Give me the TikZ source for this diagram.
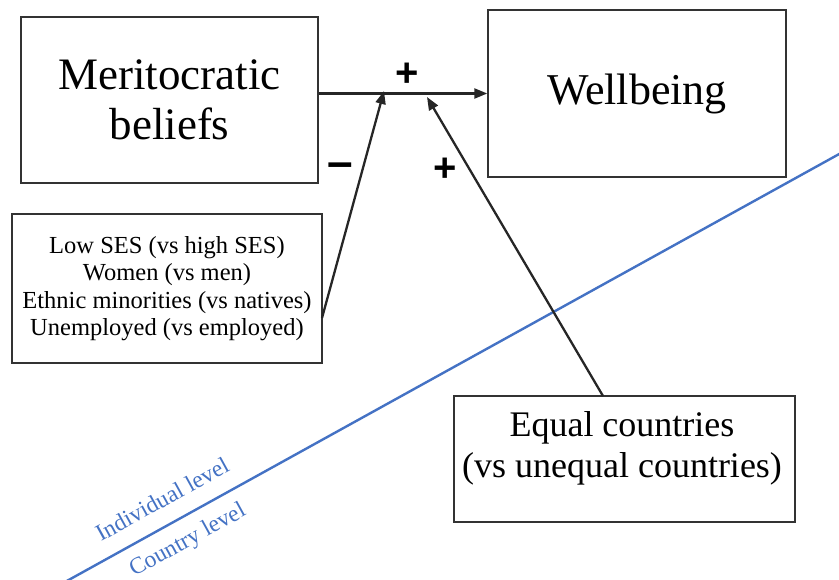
\documentclass[tikz,border=0pt]{standalone}
\usepackage{fontspec}
\setmainfont{Liberation Serif}
\newfontfamily\signfont{Liberation Sans}
\usetikzlibrary{arrows.meta}
\definecolor{lvlblue}{HTML}{4472C4}
\definecolor{boxline}{HTML}{333333}
\tikzset{
  box/.style={draw=boxline, line width=1.4pt, fill=white, inner sep=0pt, align=center},
  arr/.style={draw=black!85, line width=2.3pt, -{Triangle[length=13pt,width=10pt]}},
  sign/.style={inner sep=0pt},
  lvl/.style={text=lvlblue, font=\fontsize{23.5}{25}\selectfont, inner sep=0pt}
}
\begin{document}
\begin{tikzpicture}[x=1pt,y=-1pt]
\useasboundingbox (0,0) rectangle (839,580);
% level line
\coordinate (L1) at (65,582);
\coordinate (L2) at (841,153);
\draw[lvlblue, line width=2.4pt] (L1) -- (L2);
\node[lvl, rotate=28.9] (ind) at (162,499) {Individual level};
\node[lvl, rotate=28.9] (cty) at (188,541) {Country level};
% boxes
\node[box, minimum width=297pt, minimum height=166pt, font=\fontsize{45}{50}\selectfont] (merit) at (169.5,100) {Meritocratic\\beliefs};
\node[box, minimum width=298pt, minimum height=167pt, font=\fontsize{44}{50}\selectfont] (well) at (637,93.5) {Wellbeing};
\node[box, minimum width=310pt, minimum height=149pt, font=\fontsize{24.5}{27.5}\selectfont] (groups) at (167,288.5) {Low SES (vs high SES)\\Women (vs men)\\Ethnic minorities (vs natives)\\Unemployed (vs employed)};
\node[box, minimum width=341pt, minimum height=126pt] (equal) at (624.5,459) {};
\node[align=center, inner sep=0pt, font=\fontsize{36}{41}\selectfont] (eqtext) at (622,448) {Equal countries\\(vs unequal countries)};
% arrows
\coordinate (tip1) at (384,91);
\coordinate (tip2) at (427,97);
\coordinate (s1) at (322,318);
\coordinate (s2) at (603,396);
\draw[arr] (merit.east |- well.west) -- (well.west);
\draw[arr] (s1) -- (tip1);
\draw[arr] (s2) -- (tip2);
% signs
\node[sign, font=\signfont\bfseries\fontsize{40}{40}\selectfont] (p1) at (407,75) {+};
\node[sign, font=\signfont\bfseries\fontsize{40}{40}\selectfont] (p2) at (445,170) {+};
\node[sign, font=\signfont\bfseries\fontsize{46}{46}\selectfont] (m1) at (340,170) {–};
\end{tikzpicture}
\end{document}
